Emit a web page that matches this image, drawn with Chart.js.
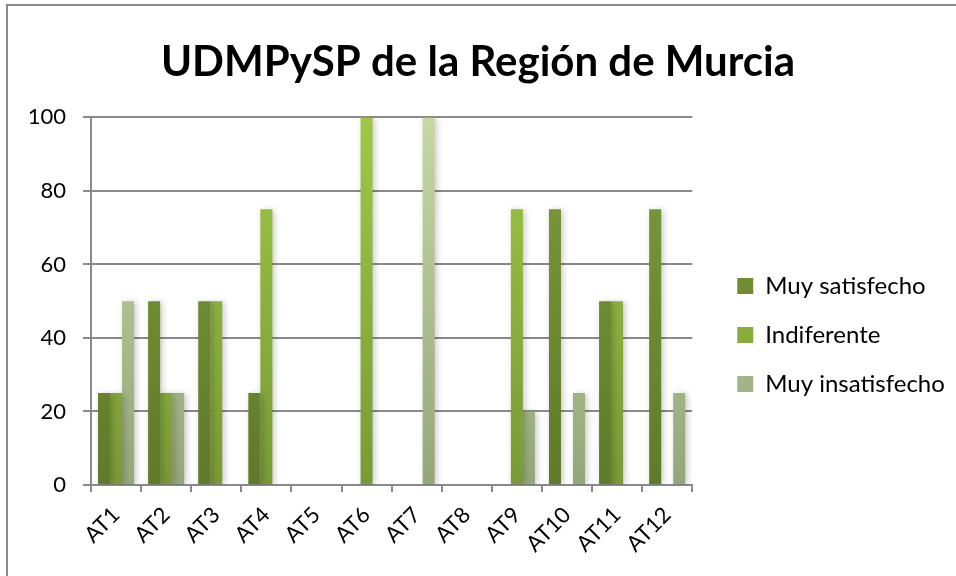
<!DOCTYPE html>
<html>
<head>
<meta charset="utf-8">
<script src="https://cdn.jsdelivr.net/npm/chart.js@4"></script>
<style>
  html, body { margin: 0; padding: 0; background: #fff; }
  #wrap { width: 956px; height: 576px; }
</style>
</head>
<body>
<div id="wrap"><canvas id="bar-chart" width="956" height="576"></canvas></div>
<script>
var categories = ["AT1", "AT2", "AT3", "AT4", "AT5", "AT6", "AT7", "AT8", "AT9", "AT10", "AT11", "AT12"];
var muySatisfecho = [25, 50, 50, 25, 0, 0, 0, 0, 0, 75, 50, 75];
var indiferente = [25, 25, 50, 75, 0, 100, 0, 0, 75, 0, 50, 0];
var muyInsatisfecho = [50, 25, 0, 0, 0, 0, 100, 0, 20, 25, 0, 25];
var yTicks = [0, 20, 40, 60, 80, 100];

var FONT = "Lato, 'Open Sans', sans-serif";

function grad(top, bottom) {
    return function (ctx) {
        var area = ctx.chart.chartArea;
        if (!area) return bottom;
        var g = ctx.chart.ctx.createLinearGradient(0, area.top, 0, area.bottom);
        g.addColorStop(0, top);
        g.addColorStop(1, bottom);
        return g;
    };
}

// frame round the chart, only top and left show
var frame = {
    id: 'frame',
    beforeDraw: function (chart) {
        var c = chart.ctx;
        c.save();
        c.strokeStyle = '#8a8a8a';
        c.lineWidth = 2;
        c.strokeRect(7, 5, chart.width + 20, chart.height + 20);
        c.restore();
    }
};

// soft shadow behind bars
var barShadow = {
    id: 'barShadow',
    beforeDatasetsDraw: function (chart) {
        var c = chart.ctx;
        c.save();
        c.shadowColor = 'rgba(0,0,0,0.22)';
        c.shadowBlur = 6;
        c.shadowOffsetX = 2;
        c.shadowOffsetY = 1;
    },
    afterDatasetsDraw: function (chart) {
        chart.ctx.restore();
    }
};

// legend a bit away from the plot, title centred on the whole canvas
var placeBlocks = {
    id: 'placeBlocks',
    afterLayout: function (chart) {
        chart.legend.left = chart.chartArea.right + 20;
        chart.legend.right = chart.width;
        chart.titleBlock.left = 0;
        chart.titleBlock.right = chart.width;
    }
};

new Chart(document.getElementById("bar-chart"), {
    type: 'bar',
    data: {
        labels: categories,
        datasets: [
            {
                label: "Muy satisfecho",
                backgroundColor: grad('#7d9d3c', '#5f7a29'),
                data: muySatisfecho
            },
            {
                label: "Indiferente",
                backgroundColor: grad('#9fc846', '#789a36'),
                data: indiferente
            },
            {
                label: "Muy insatisfecho",
                backgroundColor: grad('#c5d9a3', '#94a77a'),
                data: muyInsatisfecho
            }
        ]
    },
    options: {
        responsive: false,
        animation: false,
        layout: { padding: { left: 0, right: 33, top: 10, bottom: 0 } },
        categoryPercentage: 0.72,
        barPercentage: 1,
        scales: {
            x: {
                afterFit: function (scale) { scale.height = 91; },
                grid: { display: true, drawOnChartArea: false, color: '#8a8a8a', lineWidth: 2, tickLength: 7, offset: true },
                border: { color: '#8a8a8a', width: 2 },
                ticks: { color: '#000', font: { family: FONT, size: 22 }, minRotation: 45, maxRotation: 45, padding: 10 }
            },
            y: {
                min: 0,
                max: 100,
                afterFit: function (scale) { scale.width = 91; },
                afterBuildTicks: function (axis) {
                    axis.ticks = yTicks.map(function (v) { return { value: v }; });
                },
                grid: { color: '#8a8a8a', lineWidth: 2, tickLength: 8 },
                border: { color: '#8a8a8a', width: 2 },
                ticks: { color: '#000', font: { family: FONT, size: 22 }, padding: 17 }
            }
        },
        plugins: {
            legend: {
                position: 'right',
                title: { display: true, text: ' ', padding: 36, font: { size: 10 } },
                labels: {
                    color: '#000',
                    font: { family: FONT, size: 24 },
                    boxWidth: 16,
                    boxHeight: 16,
                    padding: 25
                }
            },
            title: {
                display: true,
                text: 'UDMPySP de la Región de Murcia',
                color: '#000',
                font: { family: FONT, size: 42, weight: 'bold' },
                padding: { top: 27, bottom: 30 }
            },
            tooltip: { enabled: false }
        }
    },
    plugins: [frame, barShadow, placeBlocks]
});
</script>
</body>
</html>
